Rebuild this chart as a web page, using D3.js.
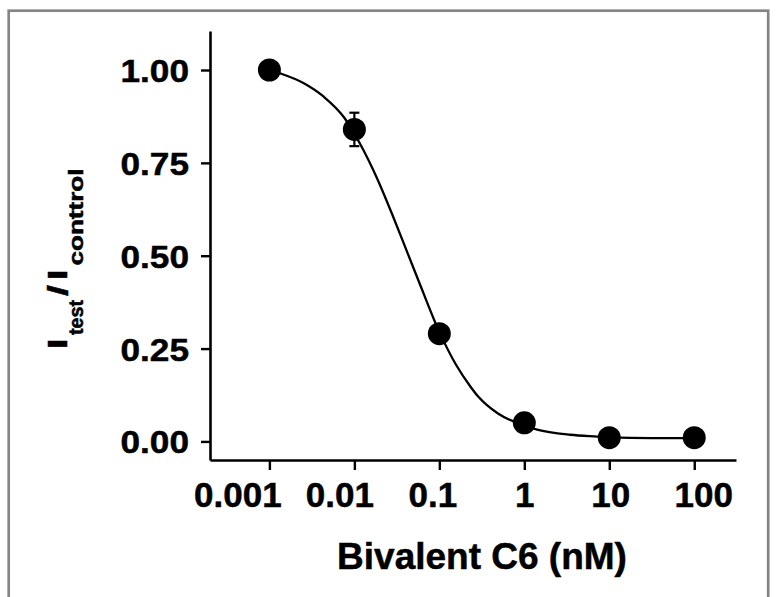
<!DOCTYPE html>
<html>
<head>
<meta charset="utf-8">
<script src="https://cdn.jsdelivr.net/npm/d3@7"></script>
<style>
  html, body { margin: 0; padding: 0; background: #fff; }
  svg text { font-family: "Liberation Sans", Arial, sans-serif; font-weight: bold; fill: #000; stroke: #000; stroke-width: 0.5px; }
</style>
</head>
<body>
<div id="chart"></div>
<script>
// measured points: concentration (nM), I_test / I_control, error
const conc = [0.001, 0.01, 0.1, 1, 10, 100];
const ratio = [1.00, 0.84, 0.29, 0.05, 0.01, 0.01];
const err = [0, 0.045, 0.01, 0, 0, 0];

// fitted curve (log10 of concentration, ratio)
const fitLogConc = [-3, -2.86, -2.6, -2.36, -2.12, -1.93, -1.74, -1.54, -1.37, -1.24, -1.0, -0.8, -0.635, -0.54, -0.31, 0, 0.15, 0.54, 0.86, 1.0, 1.5, 2.0];
const fitRatio = [1.0, 0.99, 0.965, 0.928, 0.872, 0.80, 0.712, 0.603, 0.505, 0.43, 0.295, 0.205, 0.148, 0.12, 0.075, 0.043, 0.032, 0.018, 0.013, 0.011, 0.009, 0.009];

// ticks
const xTicks = [0.001, 0.01, 0.1, 1, 10, 100];
const xTickLabels = ["0.001", "0.01", "0.1", "1", "10", "100"];
const yTicks = [0, 0.25, 0.5, 0.75, 1];
const yTickLabels = ["0.00", "0.25", "0.50", "0.75", "1.00"];

// y title pieces: text, subscript or not
const yTitleParts = ["I", "test", "/", "I", "conttrol"];
const yTitleSub = [false, true, false, false, true];

// layout
const width = 779;
const height = 597;
const xLabelNudge = [-32, -15, -7, 0, 1, 9]; // the original labels sit a bit off their ticks
const yTitleStart = [1, 15, 54, 70, 84.5];   // offsets along the rotated title
const yTitleLen = [10.5, 35, 11, 10.5, 97];

const svg = d3.select("#chart")
    .append("svg")
    .attr("width", width)
    .attr("height", height);

// grey frame round the figure
svg.append("rect")
    .attr("x", 8.7)
    .attr("y", 10.7)
    .attr("width", 759.5)
    .attr("height", 700)
    .attr("fill", "none")
    .attr("stroke", "#858585")
    .attr("stroke-width", 2.7);

const x = d3.scaleLog()
    .domain([0.0002, 310])
    .range([210, 736]);

const y = d3.scaleLinear()
    .domain([-0.05, 1.105])
    .range([460, 31]);

// x axis
const xAxis = svg.append("g")
    .attr("transform", "translate(0,460)")
    .call(d3.axisBottom(x)
        .tickValues(xTicks)
        .tickFormat((d, i) => xTickLabels[i])
        .tickSize(10)
        .tickSizeOuter(0));
xAxis.select(".domain").attr("stroke", "#000").attr("stroke-width", 2.6);
xAxis.selectAll(".tick line").attr("stroke", "#000").attr("stroke-width", 2.4);
xAxis.selectAll(".tick text")
    .attr("font-size", 35)
    .attr("dy", null)
    .attr("y", 47)
    .attr("x", (d, i) => xLabelNudge[i]);

// y axis
const yAxis = svg.append("g")
    .attr("transform", "translate(210,0)")
    .call(d3.axisLeft(y)
        .tickValues(yTicks)
        .tickFormat((d, i) => yTickLabels[i])
        .tickSize(9)
        .tickSizeOuter(0));
yAxis.select(".domain").attr("stroke", "#000").attr("stroke-width", 2.6);
yAxis.selectAll(".tick line").attr("stroke", "#000").attr("stroke-width", 2.4);
yAxis.selectAll(".tick text")
    .attr("font-size", 32)
    .attr("dy", "0.36em")
    .attr("x", -21 / 1.1)
    .attr("transform", "scale(1.1,1)");

// axis titles
svg.append("text")
    .attr("x", 482)
    .attr("y", 569)
    .attr("text-anchor", "middle")
    .attr("font-size", 37)
    .text("Bivalent C6 (nM)");

const yTitle = svg.append("g")
    .attr("transform", "translate(66.7,350) rotate(-90)");
yTitle.selectAll("text")
    .data(yTitleParts)
    .enter()
    .append("text")
    .attr("x", (d, i) => yTitleStart[i])
    .attr("y", (d, i) => yTitleSub[i] ? 16.3 : 0)
    .attr("font-size", (d, i) => yTitleSub[i] ? 19.5 : 27)
    .attr("textLength", (d, i) => yTitleLen[i])
    .attr("lengthAdjust", "spacingAndGlyphs")
    .text((d) => d);

// fitted curve
const fit = fitLogConc.map((v, i) => ({ c: Math.pow(10, v), r: fitRatio[i] }));
const line = d3.line()
    .x((d) => x(d.c))
    .y((d) => y(d.r))
    .curve(d3.curveMonotoneX);
svg.append("path")
    .datum(fit)
    .attr("d", line)
    .attr("fill", "none")
    .attr("stroke", "#000")
    .attr("stroke-width", 2.3);

// error bars
const points = conc.map((c, i) => ({ c: c, r: ratio[i], e: err[i] }));
const bars = svg.append("g")
    .selectAll("g")
    .data(points.filter((d) => d.e > 0))
    .enter()
    .append("g")
    .attr("stroke", "#000")
    .attr("stroke-width", 2.2);
bars.append("line")
    .attr("x1", (d) => x(d.c))
    .attr("x2", (d) => x(d.c))
    .attr("y1", (d) => y(d.r + d.e))
    .attr("y2", (d) => y(d.r - d.e));
bars.append("line")
    .attr("x1", (d) => x(d.c) - 5)
    .attr("x2", (d) => x(d.c) + 5)
    .attr("y1", (d) => y(d.r + d.e))
    .attr("y2", (d) => y(d.r + d.e));
bars.append("line")
    .attr("x1", (d) => x(d.c) - 5)
    .attr("x2", (d) => x(d.c) + 5)
    .attr("y1", (d) => y(d.r - d.e))
    .attr("y2", (d) => y(d.r - d.e));

// data points
svg.append("g")
    .selectAll("circle")
    .data(points)
    .enter()
    .append("circle")
    .attr("cx", (d) => x(d.c))
    .attr("cy", (d) => y(d.r))
    .attr("r", 11.5)
    .attr("fill", "#000");
</script>
</body>
</html>
